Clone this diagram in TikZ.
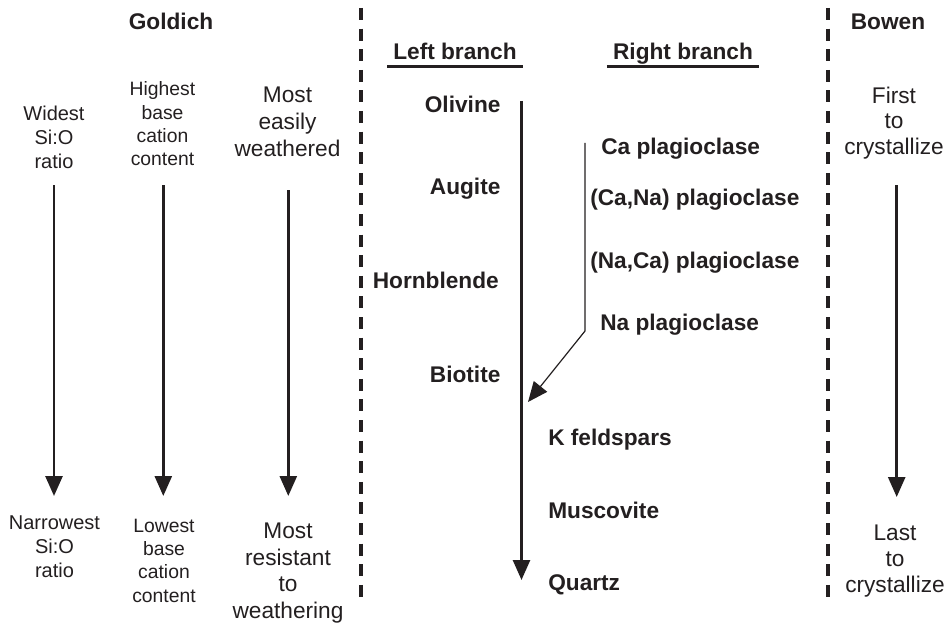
\documentclass[tikz,border=0pt]{standalone}
\usepackage{fontspec}
\setmainfont{Liberation Sans}
\usepackage{tikz}
\usetikzlibrary{arrows.meta, positioning}
\definecolor{ink}{RGB}{35, 31, 32}

\begin{document}
\begin{tikzpicture}[x=0.75pt, y=-0.75pt,
  head/.style={font=\fontsize{17pt}{20pt}\selectfont\bfseries,
    text=ink, inner sep=0pt},
  mineral/.style={font=\fontsize{17pt}{20pt}\selectfont\bfseries,
    text=ink, inner sep=0pt},
  note/.style={align=center, text=ink, inner sep=0pt},
  arr/.style={-{Triangle[length=15pt, width=12.75pt]}, line width=2pt, draw=ink},
  thinarr/.style={-{Triangle[length=15pt, width=12.75pt]}, line width=0.9pt, draw=ink},
  divider/.style={line width=2.4pt, draw=ink, dash pattern=on 9pt off 6.45pt}
]
\useasboundingbox (0,0) rectangle (952,624);

% Column headings
\node[head, anchor=base] (goldich) at (171,30) {Goldich};
\node[head, anchor=base] (bowen) at (888,30) {Bowen};
\node[head, anchor=base, text depth=0pt, inner xsep=4.5pt, inner ysep=4.5pt]
  (lb) at (455,60) {Left branch};
\node[head, anchor=base, text depth=0pt, inner xsep=4.5pt, inner ysep=4.5pt]
  (rb) at (683,60) {Right branch};
\draw[line width=2pt, ink] (lb.south west) -- (lb.south east);
\draw[line width=2pt, ink] (rb.south west) -- (rb.south east);

% Dashed dividers
\coordinate (d1a) at (361,8);
\coordinate (d1b) at (361,597);
\coordinate (d2a) at (828,8);
\coordinate (d2b) at (828,597);
\draw[divider] (d1a) -- (d1b);
\draw[divider] (d2a) -- (d2b);

% Goldich columns
\node[note, font=\fontsize{15pt}{18pt}\selectfont] at (54,137.5) (widest)
  {Widest\\Si:O\\ratio};
\node[note, font=\fontsize{15pt}{18pt}\selectfont] at (54.5,547) (narrowest)
  {Narrowest\\Si:O\\ratio};
\node[note, font=\fontsize{14.5pt}{17.5pt}\selectfont] at (162.5,124) (highest)
  {Highest\\base\\cation\\content};
\node[note, font=\fontsize{14.5pt}{17.5pt}\selectfont] at (164,560.5) (lowest)
  {Lowest\\base\\cation\\content};
\node[note, font=\fontsize{17pt}{20.5pt}\selectfont] at (287.5,121.7) (easily)
  {Most\\easily\\weathered};
\node[note, font=\fontsize{17pt}{20pt}\selectfont] at (288,573) (resistant)
  {Most\\resistant\\to\\weathering};
\coordinate (g1a) at (54,185);   \coordinate (g1b) at (54,496);
\coordinate (g2a) at (163.3,185); \coordinate (g2b) at (163.3,496);
\coordinate (g3a) at (288.3,190); \coordinate (g3b) at (288.3,496);
\draw[arr] (g1a) -- (g1b);
\draw[arr] (g2a) -- (g2b);
\draw[arr] (g3a) -- (g3b);

% Bowen column
\node[note, font=\fontsize{17pt}{19pt}\selectfont] at (894,123) (first)
  {First\\to\\crystallize};
\node[note, font=\fontsize{17pt}{19.5pt}\selectfont] at (895,561) (last)
  {Last\\to\\crystallize};
\coordinate (bwa) at (896.7,185);
\coordinate (bwb) at (896.7,497);
\draw[arr] (bwa) -- (bwb);

% Left branch (discontinuous series)
\node[mineral, anchor=base east] (olivine) at (500.7,113) {Olivine};
\node[mineral, anchor=base east] (augite) at (500.7,195) {Augite};
\node[mineral, anchor=base east] (hornblende) at (499,288) {Hornblende};
\node[mineral, anchor=base east] (biotite) at (500.7,382) {Biotite};

% Right branch (continuous series)
\node[mineral, anchor=base west] (caplag) at (601,155) {Ca plagioclase};
\node[mineral, anchor=base west] (canaplag) at (590,205) {(Ca,Na) plagioclase};
\node[mineral, anchor=base west] (nacaplag) at (590,268) {(Na,Ca) plagioclase};
\node[mineral, anchor=base west] (naplag) at (600,330) {Na plagioclase};

% Shared tail
\node[mineral, anchor=base west] (kfeld) at (548,445) {K feldspars};
\node[mineral, anchor=base west] (muscovite) at (548,518) {Muscovite};
\node[mineral, anchor=base west] (quartz) at (548,590) {Quartz};

% Series arrows
\coordinate (ma) at (521.5,101);
\coordinate (mb) at (521.5,580);
\draw[arr] (ma) -- (mb);
\coordinate (pa) at (585,143);
\coordinate (pk) at (585,331);
\coordinate (pb) at (528,402);
\draw[thinarr] (pa) -- (pk) -- (pb);
\end{tikzpicture}
\end{document}
